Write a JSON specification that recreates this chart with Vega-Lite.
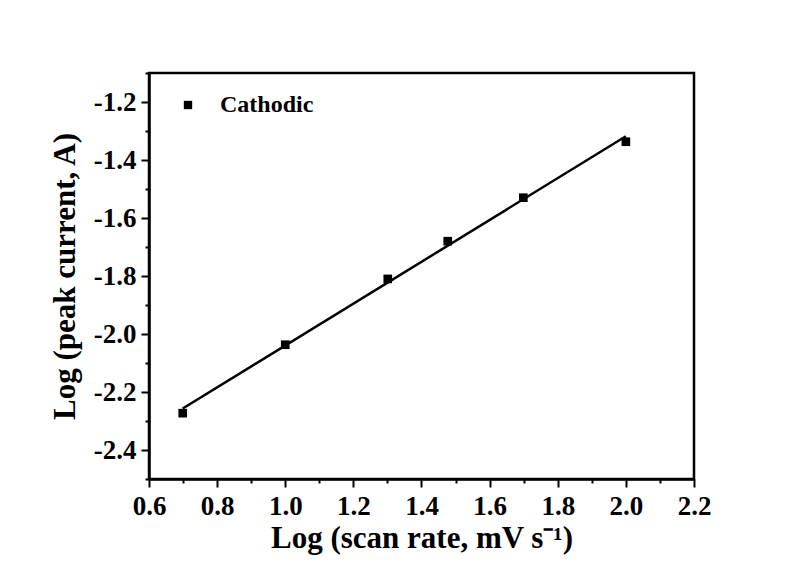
{
  "$schema": "https://vega.github.io/schema/vega-lite/v6.json",
  "width": 545,
  "height": 406,
  "autosize": "none",
  "padding": {"left": 149, "top": 73, "right": 99, "bottom": 87},
  "background": "white",
  "config": {
    "view": {"stroke": "black", "strokeWidth": 2.5},
    "font": "Liberation Serif",
    "axis": {
      "domainColor": "black", "domainWidth": 2.5,
      "tickColor": "black", "tickWidth": 2,
      "labelFont": "Liberation Serif", "labelFontWeight": "bold", "labelFontSize": 27, "labelColor": "black",
      "titleFont": "Liberation Serif", "titleFontWeight": "bold", "titleFontSize": 31, "titleColor": "black",
      "grid": false
    }
  },
  "datasets": {
    "pts": [
      {"x": 0.699, "y": -2.273, "series": "Cathodic"},
      {"x": 1.0, "y": -2.037, "series": "Cathodic"},
      {"x": 1.301, "y": -1.81, "series": "Cathodic"},
      {"x": 1.477, "y": -1.68, "series": "Cathodic"},
      {"x": 1.699, "y": -1.53, "series": "Cathodic"},
      {"x": 2.0, "y": -1.337, "series": "Cathodic"}
    ],
    "fit": [
      {"x": 0.699, "y": -2.257},
      {"x": 2.0, "y": -1.318}
    ]
  },
  "layer": [
    {
      "data": {"name": "fit"},
      "mark": {"type": "line", "color": "black", "strokeWidth": 2.5},
      "encoding": {
        "x": {"field": "x", "type": "quantitative"},
        "y": {"field": "y", "type": "quantitative"}
      }
    },
    {
      "data": {"name": "pts"},
      "mark": {"type": "point", "shape": "square", "filled": true, "color": "black", "size": 75, "opacity": 1},
      "encoding": {
        "x": {
          "field": "x", "type": "quantitative",
          "scale": {"domain": [0.6, 2.2], "nice": false, "zero": false},
          "axis": {
            "title": "Log (scan rate, mV s⁻¹)",
            "values": [0.6, 0.7, 0.8, 0.9, 1.0, 1.1, 1.2, 1.3, 1.4, 1.5, 1.6, 1.7, 1.8, 1.9, 2.0, 2.1, 2.2],
            "tickCount": 40,
            "tickSize": {"condition": {"test": "abs(round(datum.value*10)) % 2 == 1", "value": 4}, "value": 8},
            "labelExpr": "abs(round(datum.value*10)) % 2 == 1 ? '' : format(datum.value, '.1f')",
            "labelPadding": 6,
            "labelFlush": false,
            "labelOverlap": false,
            "titlePadding": 4
          }
        },
        "y": {
          "field": "y", "type": "quantitative",
          "scale": {"domain": [-2.5, -1.1], "nice": false, "zero": false},
          "axis": {
            "title": "Log (peak current, A)",
            "values": [-2.5, -2.4, -2.3, -2.2, -2.1, -2.0, -1.9, -1.8, -1.7, -1.6, -1.5, -1.4, -1.3, -1.2, -1.1],
            "tickCount": 40,
            "tickSize": {"condition": {"test": "abs(round(datum.value*10)) % 2 == 1", "value": 4}, "value": 8},
            "labelExpr": "abs(round(datum.value*10)) % 2 == 1 ? '' : '-' + format(abs(datum.value), '.1f')",
            "labelPadding": 5,
            "labelFlush": false,
            "labelOverlap": false,
            "titlePadding": 12
          }
        },
        "shape": {
          "field": "series", "type": "nominal",
          "scale": {"range": ["square"]},
          "legend": {
            "title": null,
            "orient": "none",
            "legendX": 27,
            "legendY": 20,
            "padding": 0,
            "symbolSize": 70,
            "symbolType": "square",
            "symbolFillColor": "black",
            "symbolStrokeColor": "black",
            "symbolStrokeWidth": 0,
            "labelFont": "Liberation Serif",
            "labelFontWeight": "bold",
            "labelFontSize": 24,
            "labelColor": "black",
            "labelOffset": 20
          }
        }
      }
    }
  ]
}
